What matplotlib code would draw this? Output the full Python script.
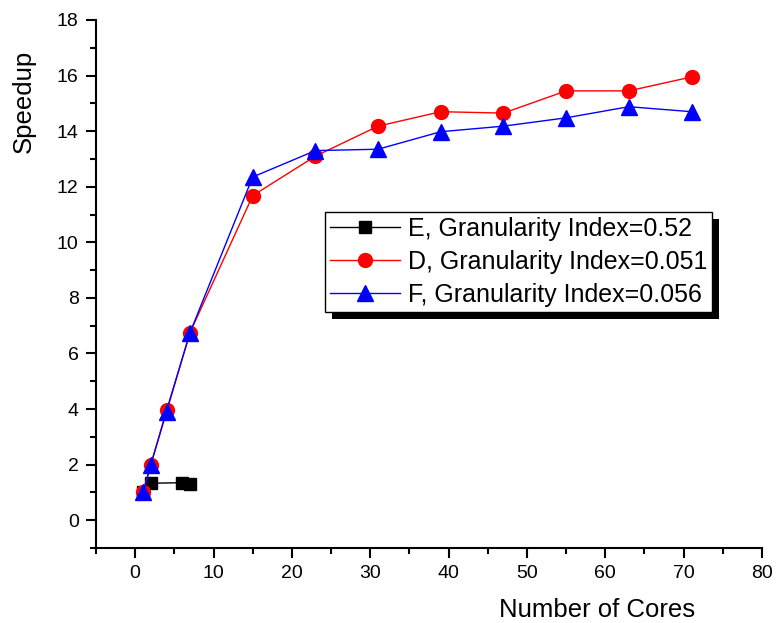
import numpy as np
import matplotlib.pyplot as plt
from matplotlib.patches import Rectangle
from matplotlib.ticker import MultipleLocator

plt.rcParams['font.family'] = ['Liberation Sans', 'DejaVu Sans']

# Series
e_cores = [1, 2, 6, 7]
e_speedup = [1.0, 1.33, 1.35, 1.32]

df_cores = [1, 2, 4, 7, 15, 23, 31, 39, 47, 55, 63, 71]
d_speedup = [1.0, 2.0, 3.95, 6.75, 11.68, 13.1, 14.18, 14.7, 14.65, 15.45, 15.45, 15.95]
f_speedup = [1.0, 2.0, 3.9, 6.75, 12.35, 13.3, 13.35, 13.98, 14.18, 14.48, 14.88, 14.7]

labels = ['E, Granularity Index=0.52',
          'D, Granularity Index=0.051',
          'F, Granularity Index=0.056']

fig = plt.figure(figsize=(7.76, 6.23), dpi=100)
ax = fig.add_axes([0.1237, 0.1204, 0.8583, 0.8475])

ax.plot(e_cores, e_speedup, color='black', lw=1, marker='s', markersize=9,
        label=labels[0])
ax.plot(df_cores, d_speedup, color='#ff0000', lw=1, marker='o', markersize=10,
        label=labels[1])
ax.plot(df_cores, f_speedup, color='#0000ff', lw=1, marker='^', markersize=11,
        label=labels[2])

ax.set_xlim(-5, 80)
ax.set_ylim(-1, 18)
ax.xaxis.set_major_locator(MultipleLocator(10))
ax.xaxis.set_minor_locator(MultipleLocator(5))
ax.yaxis.set_major_locator(MultipleLocator(2))
ax.yaxis.set_minor_locator(MultipleLocator(1))
ax.set_xticks(np.arange(0, 81, 10))
ax.set_yticks(np.arange(0, 19, 2))

for side in ['top', 'right']:
    ax.spines[side].set_visible(False)
for side in ['left', 'bottom']:
    ax.spines[side].set_linewidth(1.5)

ax.tick_params(which='major', direction='out', length=7.5, width=1.5,
               labelsize=14, pad=5)
ax.tick_params(which='minor', direction='out', length=4.5, width=1.5)

ax.set_xlabel('Number of Cores', fontsize=18.5)
ax.xaxis.set_label_coords(0.752, -0.095)
ax.set_ylabel('Speedup', fontsize=18.5)
ax.yaxis.set_label_coords(-0.09, 0.845)

leg = ax.legend(loc='upper left', bbox_to_anchor=(0.344, 0.636), borderaxespad=0,
                fontsize=18, frameon=True, fancybox=False, framealpha=1,
                edgecolor='black', handlelength=2.8, handletextpad=0.3,
                labelspacing=0.35, borderpad=0.2)
leg.get_frame().set_linewidth(1)
leg.set_zorder(10)

# Solid black drop shadow behind the legend box
fig.canvas.draw()
bb = leg.get_window_extent()
shadow = Rectangle((bb.x0 + 7, bb.y0 - 7), bb.width, bb.height,
                   transform=None, facecolor='black', edgecolor='none', zorder=9)
ax.add_artist(shadow)

fig.savefig('out.png', dpi=100)
